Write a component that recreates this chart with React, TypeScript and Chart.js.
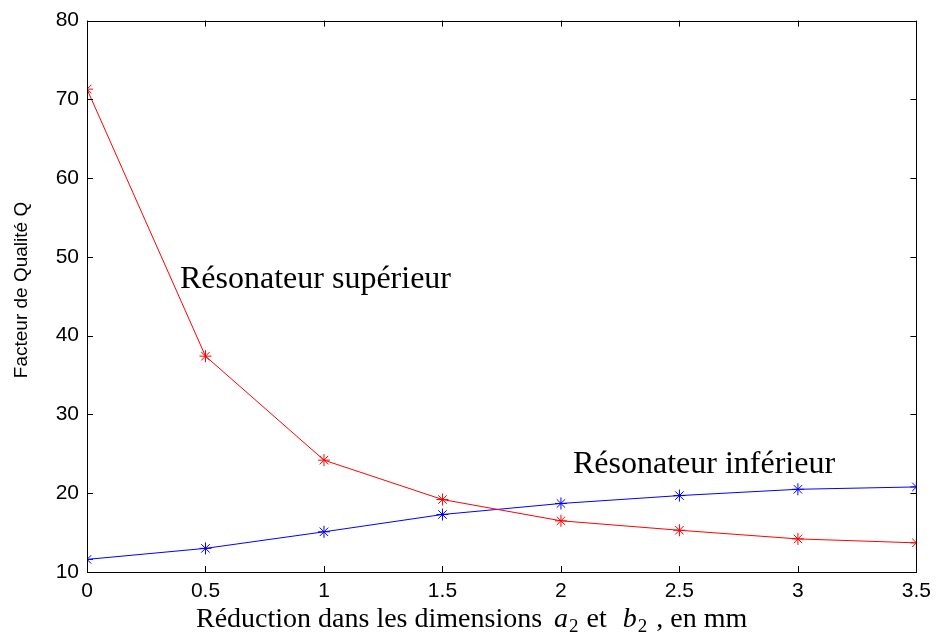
import React, { useEffect, useRef } from "react";
import { Chart, registerables } from "chart.js";

Chart.register(...registerables);

// Reduction of the dimensions a2 and b2 (mm)
const reduction = [0, 0.5, 1, 1.5, 2, 2.5, 3, 3.5];
// Quality factor Q of the upper resonator
const qUpper = [71.3, 37.4, 24.2, 19.2, 16.5, 15.3, 14.2, 13.7];
// Quality factor Q of the lower resonator
const qLower = [11.6, 13.0, 15.1, 17.3, 18.7, 19.7, 20.5, 20.8];

const xTicks = [0, 0.5, 1, 1.5, 2, 2.5, 3, 3.5];
const yTicks = [10, 20, 30, 40, 50, 60, 70, 80];

const yTitle = "Facteur de Qualité Q";
const labelUpper = "Résonateur supérieur";
const labelLower = "Résonateur inférieur";

const SERIF = "'Liberation Serif', 'Times New Roman', serif";
const SANS = "'Liberation Sans', Arial, sans-serif";

// Box, inward ticks, axis titles and curve labels in the MATLAB style
const framePlugin = {
  id: "frame",
  afterDraw(chart: any) {
    const { ctx, chartArea: a, scales } = chart;
    const xs = scales.x;
    const ys = scales.y;
    ctx.save();
    ctx.strokeStyle = "#000";
    ctx.lineWidth = 1;
    ctx.strokeRect(Math.round(a.left) + 0.5, Math.round(a.top) + 0.5, Math.round(a.right - a.left), Math.round(a.bottom - a.top));

    const tl = 6;
    ctx.beginPath();
    xTicks.forEach((v) => {
      const px = Math.round(xs.getPixelForValue(v)) + 0.5;
      ctx.moveTo(px, a.bottom);
      ctx.lineTo(px, a.bottom - tl);
      ctx.moveTo(px, a.top);
      ctx.lineTo(px, a.top + tl);
    });
    yTicks.forEach((v) => {
      const py = Math.round(ys.getPixelForValue(v)) + 0.5;
      ctx.moveTo(a.left, py);
      ctx.lineTo(a.left + tl, py);
      ctx.moveTo(a.right, py);
      ctx.lineTo(a.right - tl, py);
    });
    ctx.stroke();

    // y-axis title
    ctx.fillStyle = "#000";
    ctx.font = `19px ${SANS}`;
    ctx.textAlign = "center";
    ctx.textBaseline = "middle";
    ctx.save();
    ctx.translate(22, 290);
    ctx.rotate(-Math.PI / 2);
    ctx.fillText(yTitle, 0, 0);
    ctx.restore();

    // x-axis title with italic a2 / b2, laid out left to right with fixed gaps
    const base = 627;
    const parts: { t: string; font: string; gap: number; dy: number }[] = [
      { t: "Réduction dans les dimensions", font: `28px ${SERIF}`, gap: 0, dy: 0 },
      { t: "a", font: `italic 28px ${SERIF}`, gap: 12, dy: 0 },
      { t: "2", font: `19px ${SERIF}`, gap: 1, dy: 5 },
      { t: "et", font: `28px ${SERIF}`, gap: 8, dy: 0 },
      { t: "b", font: `italic 28px ${SERIF}`, gap: 16, dy: 0 },
      { t: "2", font: `19px ${SERIF}`, gap: 1, dy: 5 },
      { t: ", en mm", font: `28px ${SERIF}`, gap: 9, dy: 0 },
    ];
    ctx.textAlign = "left";
    ctx.textBaseline = "alphabetic";
    let x = 196;
    parts.forEach((p) => {
      ctx.font = p.font;
      x += p.gap;
      ctx.fillText(p.t, x, base + p.dy);
      x += ctx.measureText(p.t).width;
    });

    // curve labels
    ctx.font = `32px ${SERIF}`;
    ctx.fillText(labelUpper, 180, 288);
    ctx.fillText(labelLower, 573, 473);
    ctx.restore();
  },
};

export default function App() {
  const ref = useRef<HTMLCanvasElement>(null);

  useEffect(() => {
    if (!ref.current) return;
    const chart = new Chart(ref.current, {
      type: "line",
      data: {
        datasets: [
          {
            label: labelUpper,
            data: reduction.map((x, i) => ({ x, y: qUpper[i] })),
            borderColor: "#ff0000",
            backgroundColor: "#ff0000",
            borderWidth: 1,
            pointStyle: "star",
            pointRadius: 6,
            pointBorderWidth: 1,
            pointBorderColor: "#ff0000",
          },
          {
            label: labelLower,
            data: reduction.map((x, i) => ({ x, y: qLower[i] })),
            borderColor: "#0000ff",
            backgroundColor: "#0000ff",
            borderWidth: 1,
            pointStyle: "star",
            pointRadius: 6,
            pointBorderWidth: 1,
            pointBorderColor: "#0000ff",
          },
        ],
      },
      options: {
        animation: false,
        responsive: true,
        maintainAspectRatio: false,
        layout: { padding: { left: 0, right: 20, top: 19, bottom: 0 } },
        plugins: {
          legend: { display: false },
          tooltip: { enabled: false },
        },
        scales: {
          x: {
            type: "linear",
            min: 0,
            max: 3.5,
            afterFit: (s: any) => {
              s.height = 63;
            },
            afterBuildTicks: (s: any) => {
              s.ticks = xTicks.map((v) => ({ value: v }));
            },
            grid: { display: false, drawTicks: false },
            border: { display: false },
            ticks: {
              color: "#000",
              font: { family: SANS, size: 21 },
              padding: 7,
              maxRotation: 0,
              callback: (v: any) => String(v),
            },
          },
          y: {
            type: "linear",
            min: 10,
            max: 80,
            afterFit: (s: any) => {
              s.width = 87;
            },
            afterBuildTicks: (s: any) => {
              s.ticks = yTicks.map((v) => ({ value: v }));
            },
            grid: { display: false, drawTicks: false },
            border: { display: false },
            ticks: {
              color: "#000",
              font: { family: SANS, size: 21 },
              padding: 8,
              callback: (v: any) => String(v),
            },
          },
        },
      },
      plugins: [framePlugin],
    });
    return () => chart.destroy();
  }, []);

  return (
    <div style={{ position: "fixed", left: 0, top: 0, width: 938, height: 635, background: "#fff" }}>
      <canvas ref={ref} />
    </div>
  );
}
